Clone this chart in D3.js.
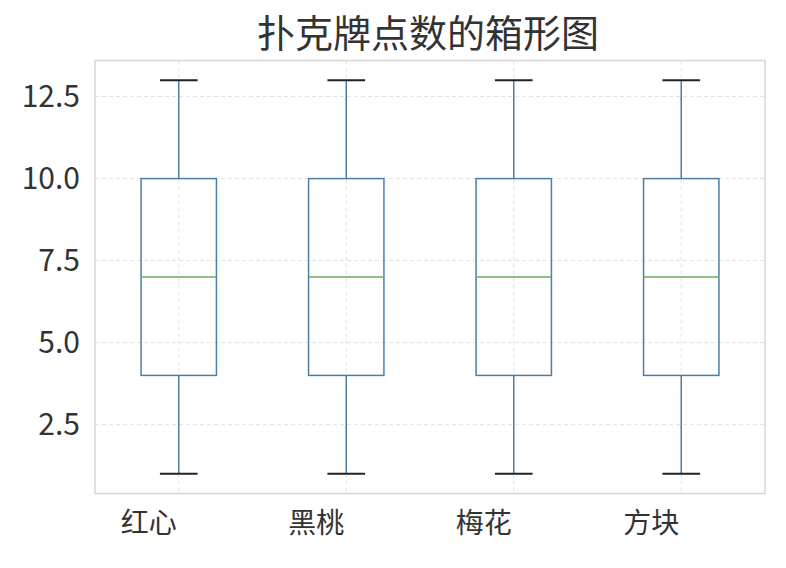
<!DOCTYPE html>
<html><head><meta charset="utf-8">
<script src="https://cdn.jsdelivr.net/npm/d3@7"></script>
<style>body{margin:0;background:#fff}svg{display:block}</style>
</head><body>
<script>
const categories = ["红心","黑桃","梅花","方块"];
const mins    = [1,1,1,1];
const q1s     = [4,4,4,4];
const medians = [7,7,7,7];
const q3s     = [10,10,10,10];
const maxs    = [13,13,13,13];
const yTicks  = [2.5,5.0,7.5,10.0,12.5];
const yTickLabels = ["2.5","5.0","7.5","10.0","12.5"];
const title = "扑克牌点数的箱形图";

const W=786,H=568;
const L=95,R=765,T=60.5,B=493.5;
const font = "'Noto Sans CJK SC','DejaVu Sans',sans-serif";
const svg=d3.select("body").append("svg").attr("width",W).attr("height",H);
const x=d3.scaleLinear().domain([0.5,4.5]).range([L,R]);
const y=d3.scaleLinear().domain([0.4,13.6]).range([B,T]);

// grid
const g=svg.append("g");
g.selectAll(".gy").data(yTicks).join("line")
 .attr("x1",L).attr("x2",R).attr("y1",d=>y(d)).attr("y2",d=>y(d))
 .attr("stroke","#e2e2e2").attr("stroke-width",1).attr("stroke-dasharray","4,3");
g.selectAll(".gx").data(categories).join("line")
 .attr("x1",(d,i)=>x(i+1)).attr("x2",(d,i)=>x(i+1)).attr("y1",T).attr("y2",B)
 .attr("stroke","#e2e2e2").attr("stroke-width",1).attr("stroke-dasharray","4,3");

// frame
svg.append("rect").attr("x",L).attr("y",T).attr("width",R-L).attr("height",B-T)
 .attr("fill","none").attr("stroke","#d6d6d6").attr("stroke-width",1.5);

const boxW=0.45, capW=0.225;
const boxColor="#4a7ea8", medColor="#6aad5c";
const bx=svg.append("g");
categories.forEach((c,i)=>{
  const p=i+1;
  bx.append("line").attr("x1",x(p)).attr("x2",x(p)).attr("y1",y(q3s[i])).attr("y2",y(maxs[i]))
    .attr("stroke",boxColor).attr("stroke-width",1.5);
  bx.append("line").attr("x1",x(p)).attr("x2",x(p)).attr("y1",y(q1s[i])).attr("y2",y(mins[i]))
    .attr("stroke",boxColor).attr("stroke-width",1.5);
  [mins[i],maxs[i]].forEach(v=>{
    bx.append("line").attr("x1",x(p-capW/2)).attr("x2",x(p+capW/2))
      .attr("y1",y(v)).attr("y2",y(v)).attr("stroke","#222").attr("stroke-width",2);
  });
  bx.append("rect").attr("x",x(p-boxW/2)).attr("width",x(p+boxW/2)-x(p-boxW/2))
    .attr("y",y(q3s[i])).attr("height",y(q1s[i])-y(q3s[i]))
    .attr("fill","none").attr("stroke",boxColor).attr("stroke-width",1.5);
  bx.append("line").attr("x1",x(p-boxW/2)).attr("x2",x(p+boxW/2))
    .attr("y1",y(medians[i])).attr("y2",y(medians[i])).attr("stroke",medColor).attr("stroke-width",1.5);
});

// y tick labels
svg.selectAll(".yl").data(yTicks).join("text")
 .attr("x",80).attr("y",d=>y(d)).attr("dy","0.36em").attr("text-anchor","end")
 .attr("font-family",font).attr("font-size",30).attr("fill","#333")
 .text((d,i)=>yTickLabels[i]);

// x labels
svg.selectAll(".xl").data(categories).join("text")
 .attr("x",(d,i)=>x(i+1)-2).attr("y",523).attr("dy","0.36em").attr("text-anchor","end")
 .attr("font-family",font).attr("font-size",28).attr("fill","#333").text(d=>d);

// title
svg.append("text").attr("x",428).attr("y",33).attr("dy","0.36em").attr("text-anchor","middle")
 .attr("font-family",font).attr("font-size",38).attr("fill","#333").text(title);
</script>
</body></html>
